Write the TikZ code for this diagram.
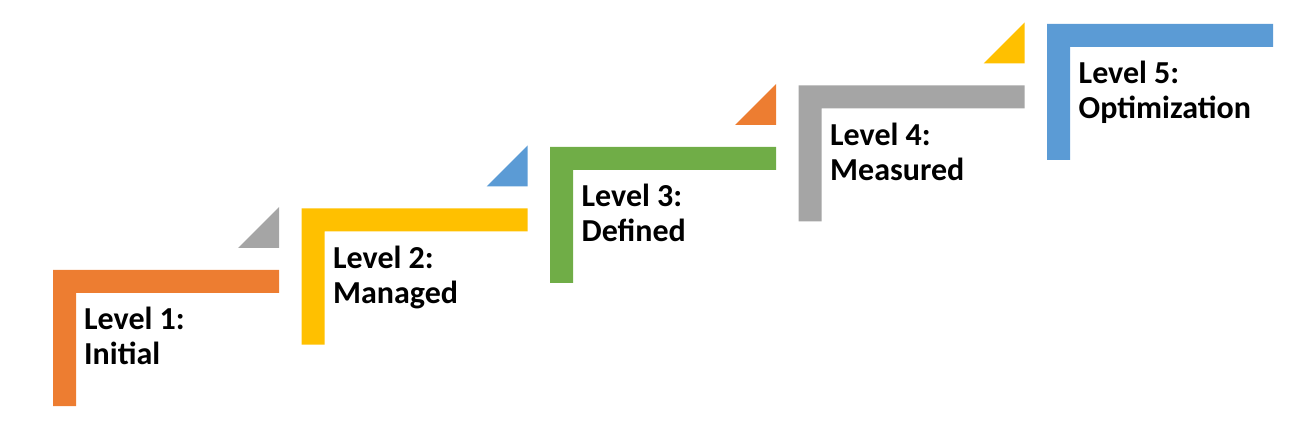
\documentclass[tikz,border=0pt]{standalone}
\usepackage{fontspec}
\setmainfont{Carlito}
\definecolor{corange}{HTML}{ED7D31}
\definecolor{cyellow}{HTML}{FFC000}
\definecolor{cgreen}{HTML}{70AD47}
\definecolor{cgray}{HTML}{A5A5A5}
\definecolor{cblue}{HTML}{5B9BD5}
\tikzset{
  lbl/.style={anchor=north west, inner sep=0pt, align=left, font=\fontsize{32}{35}\selectfont\bfseries, text=black},
}
\newcommand{\stepL}[3]{% x, y, color
  \fill[#3] (#1,#2) -- ++(226,0) -- ++(0,23) -- ++(-203,0) -- ++(0,113) -- ++(-23,0) -- cycle;
}
\newcommand{\tri}[3]{% x of step, y of step, color
  \fill[#3] (#1+226,#2-63) -- (#1+226,#2-22) -- (#1+185,#2-22) -- cycle;
}
\begin{document}
\begin{tikzpicture}[x=1pt,y=-1pt]
\useasboundingbox (0,0) rectangle (1300,427);
\stepL{53}{270}{corange}
\stepL{301.5}{208.5}{cyellow}
\stepL{550}{147}{cgreen}
\stepL{798.5}{85.5}{cgray}
\stepL{1047}{24}{cblue}
\tri{53}{270}{cgray}
\tri{301.5}{208.5}{cblue}
\tri{550}{147}{corange}
\tri{798.5}{85.5}{cyellow}
\node[lbl] (t1) at (84,307) {Level 1:\\Initial};
\node[lbl] (t2) at (333,245.5) {Level 2:\\Managed};
\node[lbl] (t3) at (581.5,184) {Level 3:\\Defined};
\node[lbl] (t4) at (830,122.5) {Level 4:\\Measured};
\node[lbl] (t5) at (1078.5,61) {Level 5:\\Optimization};
\end{tikzpicture}
\end{document}
